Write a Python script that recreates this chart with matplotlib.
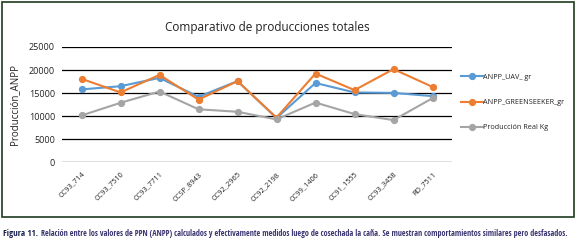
import matplotlib
matplotlib.use("Agg")
import matplotlib.pyplot as plt
from matplotlib.patches import Rectangle
from matplotlib import font_manager

categories = ["CC93_714", "CC93_7510", "CC93_7711", "CCSP_8943", "CC92_2965",
              "CC92_2198", "CC99_1406", "CC91_1555", "CC93_3458", "RD_7511"]
anpp_uav = [15800, 16500, 18300, 14200, 17600, 9600, 17200, 15150, 15050, 14350]
anpp_greenseeker = [18100, 15150, 18950, 13600, 17600, 9700, 19250, 15650, 20200, 16350]
produccion_real = [10150, 12900, 15350, 11500, 10950, 9300, 12950, 10450, 9150, 13900]
series_names = ["ANPP_UAV_ gr", "ANPP_GREENSEEKER_gr", "Producción Real Kg"]
yticks = [0, 5000, 10000, 15000, 20000, 25000]

W, H = 576, 246
fig = plt.figure(figsize=(W / 100, H / 100), dpi=100)
fig.patch.set_facecolor("white")

# chart frame
fig.patches.append(Rectangle((1.5 / W, 1 - 216.5 / H), 572.5 / W, 215 / H,
                             transform=fig.transFigure, fill=False,
                             edgecolor="#1d3b1d", linewidth=1.2))

ax = fig.add_axes([62 / W, 1 - 162.3 / H, 390 / W, (162.3 - 47) / H])
x = list(range(len(categories)))
colors = ["#5b9bd5", "#ed7d31", "#a5a5a5"]
for vals, c, name in zip([anpp_uav, anpp_greenseeker, produccion_real], colors, series_names):
    ax.plot(x, vals, color=c, lw=1.5, marker="o", ms=4.2, mfc=c, mec=c, label=name, zorder=3)

ax.set_xlim(-0.5, len(categories) - 0.5)
ax.set_ylim(0, 25000)
ax.set_yticks(yticks)
ax.set_yticklabels([str(v) for v in yticks], fontsize=6.5, family="Open Sans", color="#222222")
ax.set_xticks(x)
ax.set_xticklabels(categories, rotation=45, ha="right", rotation_mode="anchor",
                   fontsize=5.3, family="Open Sans", color="#222222")
ax.tick_params(axis="both", length=0, pad=5)
ax.tick_params(axis="x", pad=6)
for s in ax.spines.values():
    s.set_visible(False)
ax.grid(axis="y", color="black", lw=0.9)
ax.set_axisbelow(True)
ax.set_ylabel("Producción_ANPP", fontsize=7, family="Open Sans", color="#222222", labelpad=6)

fig.text(267 / W, 1 - 28 / H, "Comparativo de producciones totales", ha="center", va="center",
         fontsize=8.5, family="Open Sans", color="#222222")

leg = ax.legend(loc="upper left", bbox_to_anchor=(458 / W, 1 - 71 / H),
                bbox_transform=fig.transFigure, frameon=False,
                prop={"family": "Open Sans", "size": 5.2}, labelspacing=2.5,
                handlelength=3.0, handletextpad=0.1, borderaxespad=0)
for t in leg.get_texts():
    t.set_color("#222222")

# caption: choose narrowest available font family
names = {f.name for f in font_manager.fontManager.ttflist}
cands = [n for n in ["Liberation Sans Narrow", "Roboto Condensed", "Open Sans Condensed",
                     "Noto Sans Condensed", "Liberation Sans", "Roboto", "DejaVu Sans Condensed",
                     "Noto Sans", "Open Sans"] if n in names]
fig.canvas.draw()
r = fig.canvas.get_renderer()
body = ("Relación entre los valores de PPN (ANPP) calculados y efectivamente medidos luego de "
        "cosechada la caña. Se muestran comportamientos similares pero desfasados.")
best = None
for fam in cands:
    tt = fig.text(0, 0, "Figura 11. " + body, fontsize=10, family=fam)
    w = tt.get_window_extent(r).width
    tt.remove()
    size = 10 * 560 / w
    if best is None or size > best[1]:
        best = (fam, size)
fam, size = best
size = min(size, 7.0)
t1 = fig.text(3 / W, 1 - 233 / H, "Figura 11.", ha="left", va="center", fontsize=size * 1.1,
              family=fam, weight="bold", color="#1c2350")
bb = t1.get_window_extent(r)
t2 = fig.text((bb.x1 + 2.5) / W, 1 - 233 / H, body,
              ha="left", va="center", fontsize=size, family=fam, color="#3a3470")

fig.savefig("out.png", dpi=100)
